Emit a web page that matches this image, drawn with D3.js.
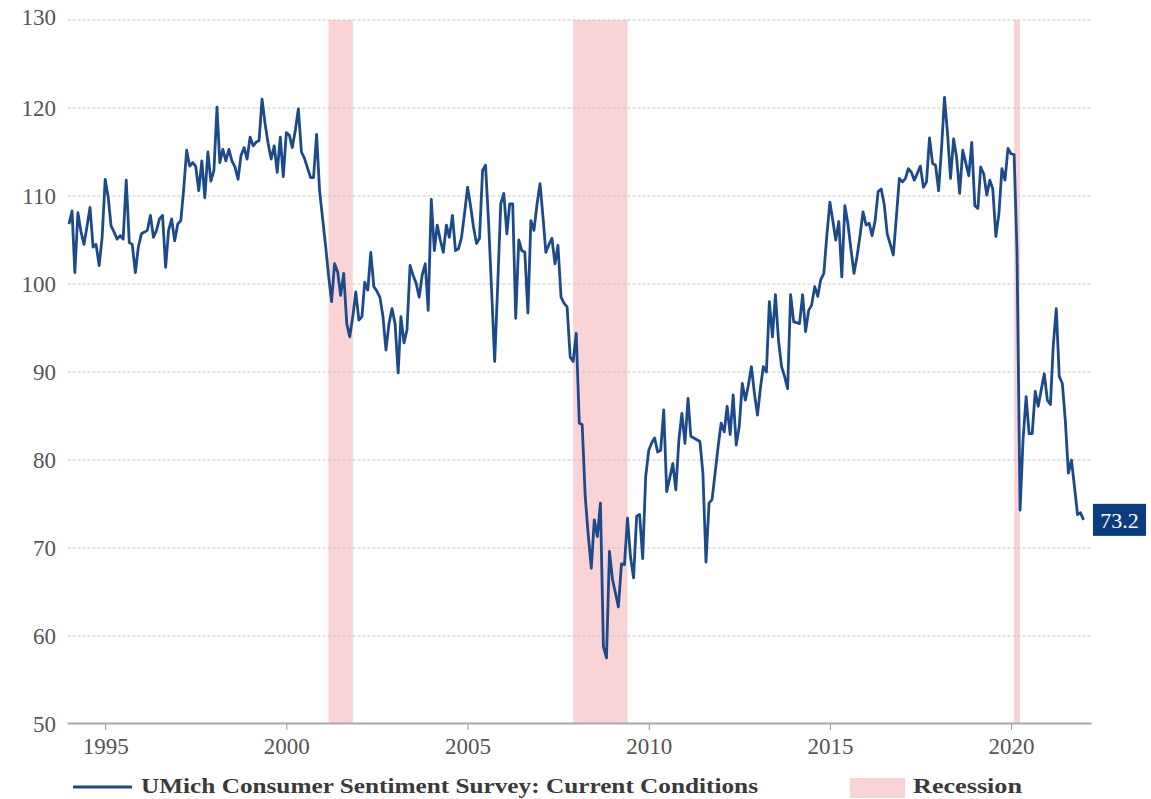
<!DOCTYPE html>
<html>
<head>
<meta charset="utf-8">
<script src="https://cdn.jsdelivr.net/npm/d3@7"></script>
<style>
  html, body { margin: 0; padding: 0; background: #ffffff; }
  svg { display: block; }
  text { font-family: "Liberation Serif", "Times New Roman", serif; }
</style>
</head>
<body>
<svg id="chart" width="1151" height="799"></svg>
<script>
// ---- Data (monthly, starting January 1994) ----
const seriesName = "UMich Consumer Sentiment Survey: Current Conditions";
const startYear = 1994;
const currentConditions = [
  // 1994
  106.8,108.3,101.3,108.1,106.0,104.5,106.5,108.7,104.2,104.5,102.1,105.3,
  // 1995
  111.9,109.8,106.6,105.9,105.1,105.5,105.1,111.8,104.7,104.5,101.3,104.2,
  // 1996
  105.7,105.9,106.1,107.8,105.3,106.1,107.4,107.8,101.9,106.1,107.4,104.9,
  // 1997
  106.8,107.2,110.6,115.2,113.4,113.8,113.4,110.6,114.0,109.8,115.0,111.7,
  // 1998
  112.9,120.1,113.8,115.3,114.0,115.3,114.0,113.3,111.9,114.6,115.5,114.2,
  // 1999
  116.7,115.7,116.1,116.3,121.0,118.2,116.0,114.2,115.7,112.7,116.7,112.2,
  // 2000
  117.2,116.9,115.5,117.5,119.9,115.0,114.3,113.2,112.1,112.1,117.0,110.6,
  // 2001
  107.4,104.2,101.0,98.0,102.3,101.4,98.7,101.2,95.5,94.0,96.3,99.1,
  // 2002
  95.9,96.3,100.2,99.3,103.6,99.7,99.2,98.5,96.3,92.5,95.5,97.2,
  // 2003
  95.5,89.9,96.3,93.3,94.8,102.1,101.0,100.1,98.5,101.0,102.3,97.0,
  // 2004
  109.6,103.8,106.7,105.0,103.6,106.7,105.3,107.8,103.8,104.0,105.3,108.0,
  // 2005
  111.0,108.8,106.5,104.6,105.2,112.9,113.5,106.9,99.0,91.2,100.0,109.1,
  // 2006
  110.3,105.7,109.1,109.1,96.1,105.0,103.8,103.6,96.7,107.2,106.1,109.0,
  // 2007
  111.4,107.5,103.6,104.5,105.2,102.3,104.4,98.5,97.8,97.4,91.7,91.2,
  // 2008
  94.4,84.2,84.0,75.8,71.5,67.7,73.2,71.3,75.1,58.8,57.5,69.6,
  // 2009
  66.4,64.8,63.3,68.2,68.1,73.4,69.0,66.6,73.6,73.8,68.8,78.1,
  // 2010
  81.1,82.0,82.5,80.9,81.1,85.7,76.4,78.0,79.6,76.6,82.3,85.3,
  // 2011
  81.9,87.0,82.7,82.5,82.3,82.1,78.5,68.4,75.1,75.5,78.5,81.5,
  // 2012
  84.2,83.2,86.1,82.9,87.4,81.7,83.8,88.7,86.8,88.5,90.6,87.6,
  // 2013
  85.1,88.3,90.6,90.0,98.0,94.0,98.8,93.6,90.6,89.5,88.1,98.8,
  // 2014
  95.7,95.6,95.5,98.8,94.6,97.0,97.6,99.7,98.6,100.5,101.2,105.5,
  // 2015
  109.3,107.1,105.0,107.1,100.8,108.9,106.9,104.0,101.2,103.1,105.5,108.2,
  // 2016
  106.7,106.9,105.5,107.2,110.5,110.8,109.1,105.7,104.5,103.3,107.6,112.0,
  // 2017
  111.6,112.0,113.1,112.7,111.8,112.6,113.4,111.0,111.6,116.6,113.7,113.5,
  // 2018
  110.6,115.7,121.2,117.1,112.0,116.5,114.4,110.3,115.2,113.8,112.3,116.1,
  // 2019
  108.9,108.6,113.3,112.5,110.1,111.8,110.8,105.4,108.0,113.1,111.8,115.4,
  // 2020
  114.8,114.7,103.7,74.3,82.3,87.2,83.0,83.0,87.8,86.1,88.0,89.8,
  // 2021
  86.8,86.3,92.9,97.2,89.5,88.7,84.5,78.5,80.0,77.0,73.8,74.0,
  // 2022
  73.2
];

const recessionStarts = ["2001-03", "2007-12", "2020-02"];
const recessionEnds   = ["2001-11", "2009-06", "2020-04"];

const yTickValues = [50, 60, 70, 80, 90, 100, 110, 120, 130];
const xTickYears  = [1995, 2000, 2005, 2010, 2015, 2020];
const latestLabel = "73.2";
const legendRecession = "Recession";

// ---- Layout ----
const svg = d3.select("#chart");
const plotLeft = 67.5, plotRight = 1091.5, plotTop = 20, plotBottom = 724;
const lineColor = "#1c4a8b";
const recessionColor = "#fad3d6";

const parseYM = d3.timeParse("%Y-%m");
const data = currentConditions.map((v, i) => ({ date: new Date(startYear, i, 1), value: v }));

const x = d3.scaleTime()
  .domain([new Date(1993, 11, 17), new Date(2022, 2, 22)])
  .range([plotLeft, plotRight]);
const y = d3.scaleLinear().domain([50, 130]).range([plotBottom, plotTop]);

// Recession bands
const recs = recessionStarts.map((s, i) => ({ s: parseYM(s), e: parseYM(recessionEnds[i]) }));
svg.append("g").selectAll("rect").data(recs).join("rect")
  .attr("x", d => x(d.s))
  .attr("width", d => Math.max(3, x(d.e) - x(d.s)))
  .attr("y", y(130))
  .attr("height", y(50) - y(130))
  .attr("fill", recessionColor);

// Gridlines (dashed)
svg.append("g").selectAll("line").data(yTickValues.filter(v => v > 50)).join("line")
  .attr("x1", plotLeft).attr("x2", plotRight)
  .attr("y1", d => y(d)).attr("y2", d => y(d))
  .attr("stroke", "#c4c4c4")
  .attr("stroke-width", 1)
  .attr("stroke-dasharray", "3,2");

// Y axis labels
svg.append("g").selectAll("text").data(yTickValues).join("text")
  .attr("x", 56)
  .attr("y", d => y(d) + (d === 130 ? -3 : 0))
  .attr("dy", "0.35em")
  .attr("text-anchor", "end")
  .attr("font-size", 23)
  .attr("fill", "#555")
  .text(d => d);

// X axis
const xAxis = d3.axisBottom(x)
  .tickValues(xTickYears.map(yr => new Date(yr, 0, 1)))
  .tickFormat(d3.timeFormat("%Y"))
  .tickSize(6)
  .tickPadding(8);
const gx = svg.append("g").attr("transform", `translate(0,${plotBottom})`).call(xAxis);
gx.select(".domain").remove();
gx.selectAll(".tick line").attr("stroke", "#999").attr("stroke-width", 1);
gx.selectAll(".tick text")
  .attr("font-family", '"Liberation Serif", serif')
  .attr("font-size", 23)
  .attr("fill", "#555");
svg.append("line")
  .attr("x1", plotLeft).attr("x2", plotRight)
  .attr("y1", plotBottom - 0.5).attr("y2", plotBottom - 0.5)
  .attr("stroke", "#a8a8a8").attr("stroke-width", 2);

// Line
const line = d3.line().x(d => x(d.date)).y(d => y(d.value));
svg.append("path").datum(data)
  .attr("d", line)
  .attr("fill", "none")
  .attr("stroke", lineColor)
  .attr("stroke-width", 2.8)
  .attr("stroke-linejoin", "round");

// Latest value label
const last = data[data.length - 1];
const lbl = svg.append("g").attr("transform", `translate(1093,${y(last.value)})`);
lbl.append("rect").attr("x", 0).attr("y", -16).attr("width", 53).attr("height", 32).attr("fill", "#0b3c7d");
lbl.append("text").attr("x", 26.5).attr("y", 0).attr("dy", "0.35em")
  .attr("text-anchor", "middle").attr("font-size", 22).attr("fill", "#ffffff")
  .text(latestLabel);

// Legend
const legendY = 785;
const lg = svg.append("g");
lg.append("line").attr("x1", 73).attr("x2", 132).attr("y1", legendY + 2).attr("y2", legendY + 2)
  .attr("stroke", lineColor).attr("stroke-width", 3);
const t1 = lg.append("text").attr("x", 141).attr("y", legendY).attr("dy", "0.35em")
  .attr("font-size", 22).attr("font-weight", "bold").attr("fill", "#3a3a3a")
  .text(seriesName);
const w1 = t1.node().getComputedTextLength();
if (Math.abs(w1 - 617) > 3) t1.attr("textLength", 617).attr("lengthAdjust", "spacingAndGlyphs");
lg.append("rect").attr("x", 850).attr("y", 778).attr("width", 55).attr("height", 20).attr("fill", recessionColor);
const t2 = lg.append("text").attr("x", 913).attr("y", legendY).attr("dy", "0.35em")
  .attr("font-size", 22).attr("font-weight", "bold").attr("fill", "#3a3a3a")
  .text(legendRecession);
const w2 = t2.node().getComputedTextLength();
if (Math.abs(w2 - 109) > 3) t2.attr("textLength", 109).attr("lengthAdjust", "spacingAndGlyphs");
</script>
</body>
</html>
